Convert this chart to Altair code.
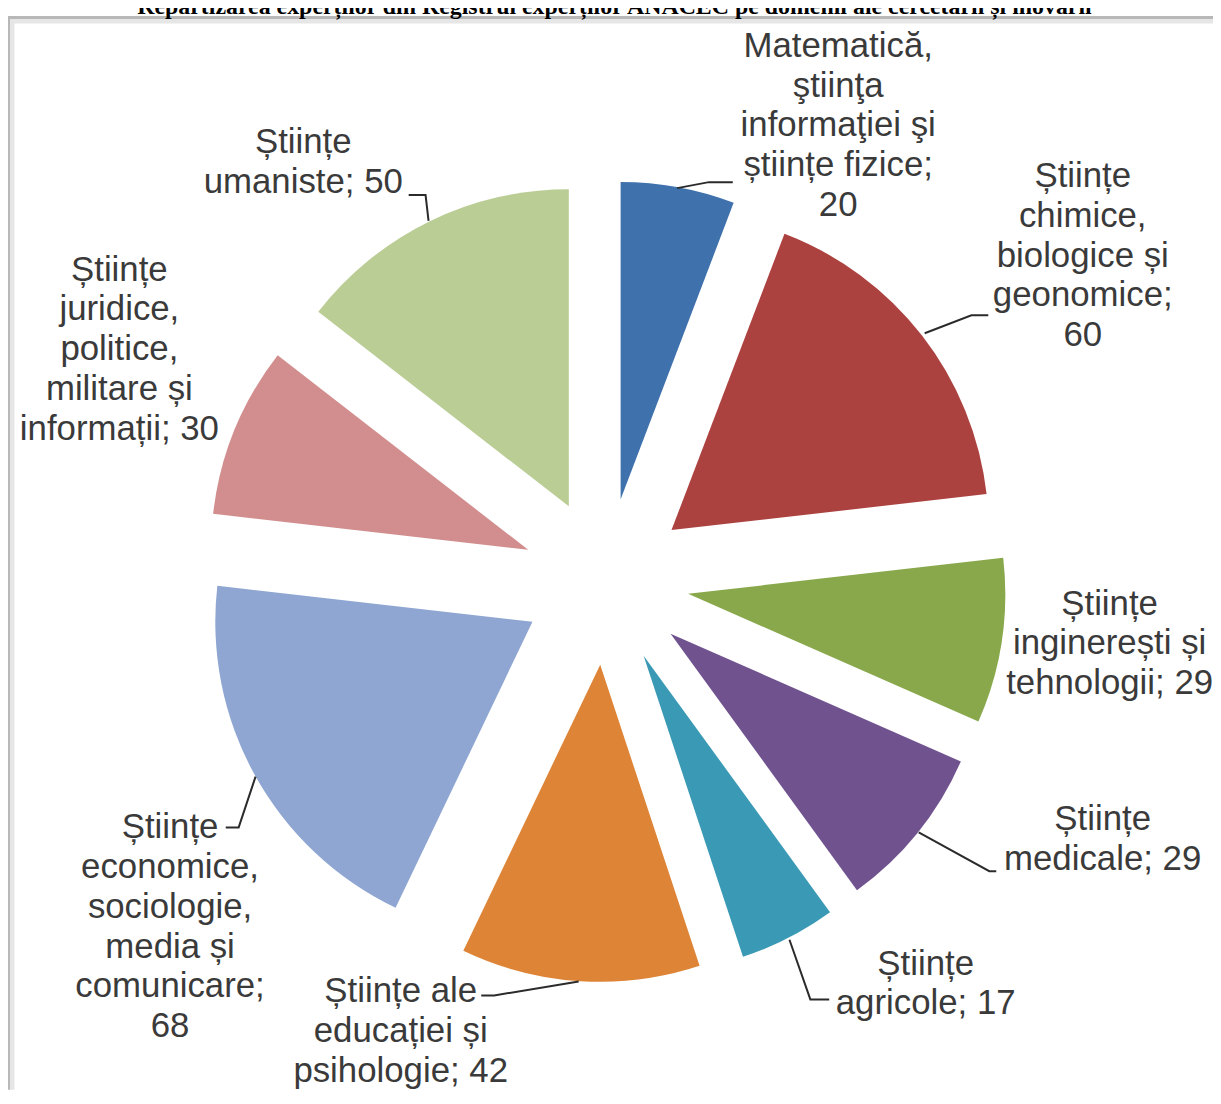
import altair as alt
import pandas as pd

# ---------------- data ----------------
categories = [
    "Matematică, știința informației și științe fizice",
    "Științe chimice, biologice și geonomice",
    "Științe inginerești și tehnologii",
    "Științe medicale",
    "Științe agricole",
    "Științe ale educației și psihologie",
    "Științe economice, sociologie, media și comunicare",
    "Științe juridice, politice, militare și informații",
    "Științe umaniste",
]
values = [20, 60, 29, 29, 17, 42, 68, 30, 50]
label_texts = [
    "Matematică,\nştiinţa\ninformaţiei şi\nștiințe fizice;\n20",
    "Științe\nchimice,\nbiologice și\ngeonomice;\n60",
    "Științe\ninginerești și\ntehnologii; 29",
    "Științe\nmedicale; 29",
    "Științe\nagricole; 17",
    "Științe ale\neducației și\npsihologie; 42",
    "Științe\neconomice,\nsociologie,\nmedia și\ncomunicare;\n68",
    "Științe\njuridice,\npolitice,\nmilitare și\ninformații; 30",
    "Științe\numaniste; 50",
]
title_text = "Repartizarea experților din Registrul experților ANACEC pe domenii ale cercetării și inovării"

# ---------------- styles / layout ----------------
colors = ["#3F71AD", "#AC4240", "#88A84B", "#70528F", "#3A9AB5",
          "#DD8437", "#8EA6D1", "#D28E8E", "#BACD95"]
W, H = 1212, 1085
CX, CY = 601, 573.5        # pie centre (px)
R = 319                     # pie radius (px)
EXPLODE = 84                # explosion distance (px)

# label anchors (centre x, first-line centre y), px
label_x = [835, 1081, 1108, 1101, 923, 395, 163, 112, 297]
label_y = [35, 166, 596, 813, 958, 986, 821, 260, 132]

# leader lines (px polylines)
leaders = [
    [(673, 178), (705, 172), (729, 172)],
    [(922, 324), (969, 306), (986, 306)],
    [(916, 826), (987, 865), (994, 865)],
    [(786, 934), (807, 994), (826, 994)],
    [(574, 976), (489, 990), (476, 990)],
    [(249, 770), (232, 821), (219, 821)],
    [(423, 211), (420, 185), (403, 185)],
]

slices = pd.DataFrame({"category": categories, "value": values,
                       "order": list(range(len(values)))})
labels = pd.DataFrame({"label": label_texts, "lx": label_x, "ly": label_y})
lead_rows = []
for i, pts in enumerate(leaders):
    for j, (px, py) in enumerate(pts):
        lead_rows.append({"id": i, "k": j, "px": px, "py": py})
lead_df = pd.DataFrame(lead_rows)

arcs = (
    alt.Chart(slices)
    .transform_joinaggregate(total="sum(value)")
    .transform_window(cum="sum(value)", sort=[alt.SortField("order")], frame=[None, 0])
    .transform_calculate(
        t1="2*PI*datum.cum/datum.total",
        t0="2*PI*(datum.cum-datum.value)/datum.total",
    )
    .transform_calculate(mid="(datum.t0+datum.t1)/2")
    .transform_calculate(
        ax=f"{CX}+{EXPLODE}*sin(datum.mid)",
        ay=f"{CY}-{EXPLODE}*cos(datum.mid)",
    )
    .mark_arc(radius=R)
    .encode(
        theta=alt.Theta("t0:Q", scale=None),
        theta2="t1:Q",
        x=alt.X("ax:Q", scale=None, axis=None),
        y=alt.Y("ay:Q", scale=None, axis=None),
        color=alt.Color("category:N", scale=alt.Scale(domain=categories, range=colors), legend=None),
    )
)

lines = (
    alt.Chart(lead_df)
    .mark_line(color="#2b2b2b", strokeWidth=2)
    .encode(
        x=alt.X("px:Q", scale=None, axis=None),
        y=alt.Y("py:Q", scale=None, axis=None),
        detail="id:N",
        order="k:Q",
    )
)

texts = (
    alt.Chart(labels)
    .mark_text(lineBreak="\n", lineHeight=40, fontSize=35, font="Liberation Sans",
               align="center", baseline="middle", color="#3a3a3a")
    .encode(
        x=alt.X("lx:Q", scale=None, axis=None),
        y=alt.Y("ly:Q", scale=None, axis=None),
        text="label:N",
    )
)

frame_shadow_top = alt.Chart(pd.DataFrame({"a": [0]})).mark_rule(color="#E6E6E6", strokeWidth=5).encode(
    x=alt.value(3), x2=alt.value(W), y=alt.value(10))
frame_shadow_left = alt.Chart(pd.DataFrame({"a": [0]})).mark_rule(color="#E6E6E6", strokeWidth=5).encode(
    x=alt.value(4), y=alt.value(8), y2=alt.value(H))
frame_top = alt.Chart(pd.DataFrame({"a": [0]})).mark_rule(color="#B8B8B8", strokeWidth=3).encode(
    x=alt.value(0), x2=alt.value(W), y=alt.value(6.5))
frame_left = alt.Chart(pd.DataFrame({"a": [0]})).mark_rule(color="#B8B8B8", strokeWidth=3).encode(
    x=alt.value(0.5), y=alt.value(5), y2=alt.value(H))

title = alt.Chart(pd.DataFrame({"t": [title_text]})).mark_text(
    font="Liberation Serif", fontWeight="bold", fontSize=24, align="center",
    baseline="alphabetic", color="#000000"
).encode(x=alt.value(610), y=alt.value(3), text="t:N")

chart = alt.layer(
    frame_shadow_top, frame_shadow_left, frame_top, frame_left, title, arcs, lines, texts
).properties(
    width=W, height=H, autosize=alt.AutoSizeParams(type="none"), padding=0
).configure_view(stroke=None)

chart.save("out.html", embed_options={"renderer": "svg", "actions": False})
